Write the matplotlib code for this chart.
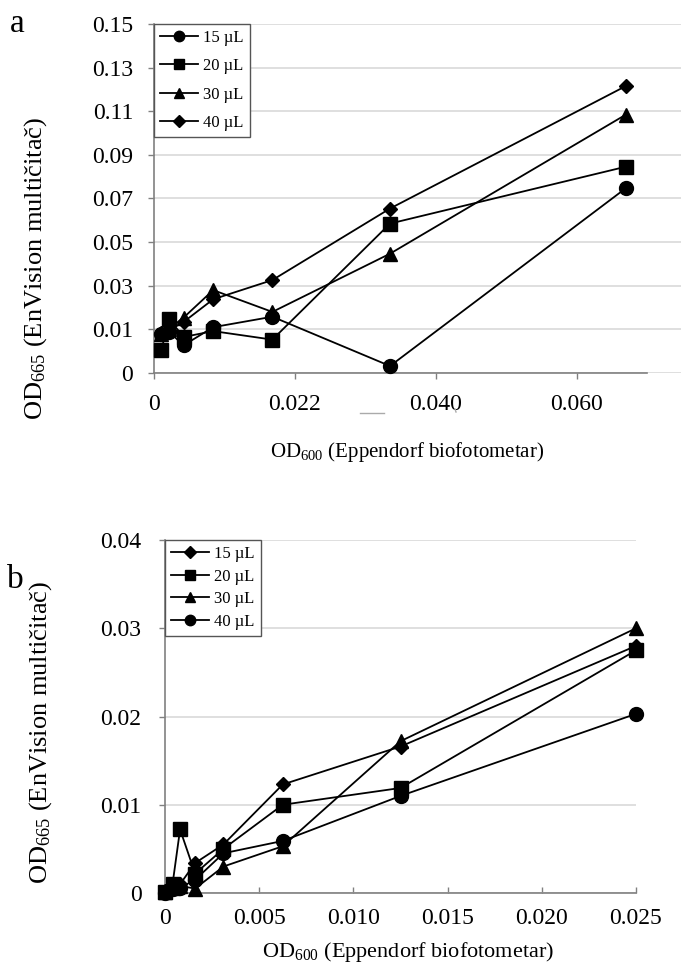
import matplotlib
matplotlib.use("Agg")
import matplotlib.pyplot as plt
from matplotlib.lines import Line2D

plt.rcParams["font.family"] = ["Liberation Serif", "DejaVu Serif"]
plt.rcParams["mathtext.default"] = "regular"

# panel a: x values as positioned on the (relabelled) axis
a_x = [0.00105, 0.0021, 0.0042, 0.0084, 0.0168, 0.0335, 0.067]
a_15 = [0.008, 0.009, 0.0027, 0.011, 0.0158, -0.0068, 0.0748]
a_20 = [0.0004, 0.0149, 0.0065, 0.0092, 0.0053, 0.0585, 0.0846]
a_30 = [0.008, 0.010, 0.0154, 0.028, 0.018, 0.0447, 0.1085]
a_40 = [0.0085, 0.0095, 0.0134, 0.0238, 0.0326, 0.0654, 0.1216]
a_xticks = [0, 0.02, 0.04, 0.06]
a_xlabels = ["0", "0.022", "0.040", "0.060"]
a_yticks = [-0.01, 0.01, 0.03, 0.05, 0.07, 0.09, 0.11, 0.13, 0.15]
a_ylabels = ["0", "0.01", "0.03", "0.05", "0.07", "0.09", "0.11", "0.13", "0.15"]

# panel b
b_x = [0, 0.0004, 0.0008, 0.0016, 0.0031, 0.00625, 0.0125, 0.025]
b_15 = [0.0002, 0.0008, 0.0010, 0.0034, 0.0055, 0.0123, 0.0166, 0.0280]
b_20 = [0.0001, 0.0010, 0.0072, 0.0022, 0.0050, 0.0100, 0.0119, 0.0275]
b_30 = [0.0001, 0.0006, 0.0008, 0.0005, 0.0030, 0.0053, 0.0172, 0.0300]
b_40 = [0.0000, 0.0004, 0.0006, 0.0015, 0.0045, 0.0059, 0.0110, 0.0203]
b_xticks = [0, 0.005, 0.010, 0.015, 0.020, 0.025]
b_xlabels = ["0", "0.005", "0.010", "0.015", "0.020", "0.025"]
b_yticks = [0, 0.01, 0.02, 0.03, 0.04]
b_ylabels = ["0", "0.01", "0.02", "0.03", "0.04"]

labels = ["15 µL", "20 µL", "30 µL", "40 µL"]

ylab = "OD$_{665}$ (EnVision multičitač)"
xlab = "OD$_{600}$ (Eppendorf biofotometar)"

sizes = {"o": 10, "s": 10, "^": 10, "D": 7.5}


def style(ax, xt, xl, yt, yl):
    for s in ["top", "right"]:
        ax.spines[s].set_visible(False)
    for s in ["left", "bottom"]:
        ax.spines[s].set_color("#808080")
        ax.spines[s].set_linewidth(1.2)
    ax.set_xticks(xt)
    ax.set_xticklabels(xl)
    ax.set_yticks(yt)
    ax.set_yticklabels(yl)
    ax.tick_params(labelsize=17, color="#808080", length=4, width=1)
    ax.yaxis.grid(True, color="#d9d9d9", linewidth=1.2)
    ax.set_axisbelow(True)


def draw(ax, x, series, markers, leg_spacing):
    handles = []
    for ys, m, lab in zip(series, markers, labels):
        ax.plot(x, ys, color="black", lw=1.3, marker=m, ms=sizes[m],
                mfc="black", mec="black", clip_on=False, zorder=3)
        handles.append(Line2D([], [], color="black", lw=1.3, marker=m,
                              ms=sizes[m] * 0.75, mfc="black", label=lab))
    leg = ax.legend(handles=handles, loc="upper left", bbox_to_anchor=(0.0, 1.0),
                    borderaxespad=0, fontsize=12, fancybox=False, framealpha=1,
                    edgecolor="#555555", handlelength=2.3, handletextpad=0.3,
                    labelspacing=leg_spacing, borderpad=0.35)
    leg.get_frame().set_linewidth(1.0)


fig = plt.figure(figsize=(6.96, 9.63), dpi=100)

ax1 = fig.add_axes([154 / 696, 1 - 373 / 963, 527 / 696, 349 / 963])
draw(ax1, a_x, [a_15, a_20, a_30, a_40], ["o", "s", "^", "D"], 0.75)
style(ax1, a_xticks, a_xlabels, a_yticks, a_ylabels)
ax1.set_xlim(0, 0.0748)
ax1.set_ylim(-0.01, 0.15)
ax1.spines["bottom"].set_bounds(0, 0.07)
ax1.tick_params(axis="x", pad=11)
ax1.tick_params(axis="y", pad=11)
ax1.set_xlabel(xlab, fontsize=15)
ax1.xaxis.set_label_coords((407 - 154) / 527, -(440 - 373) / 349)
ax1.set_ylabel(ylab, fontsize=19)
ax1.yaxis.set_label_coords((49 - 154) / 527, (373 - 268) / 349)

ax2 = fig.add_axes([165 / 696, 1 - 893 / 963, 471 / 696, 353 / 963])
draw(ax2, b_x, [b_15, b_20, b_30, b_40], ["D", "s", "^", "o"], 0.4)
style(ax2, b_xticks, b_xlabels, b_yticks, b_ylabels)
ax2.set_xlim(0, 0.025)
ax2.set_ylim(0, 0.04)
ax2.tick_params(axis="x", direction="in", pad=11)
ax2.tick_params(axis="y", pad=13)
ax2.set_xlabel(xlab, fontsize=16)
ax2.xaxis.set_label_coords((408 - 165) / 471, -(940 - 893) / 353)
ax2.set_ylabel(ylab, fontsize=19)
ax2.yaxis.set_label_coords((54 - 165) / 471, (893 - 732) / 353)

fig.text(10 / 696, 1 - 32 / 963, "a", fontsize=24)
fig.text(7 / 696, 1 - 588 / 963, "b", fontsize=24)

# small scan marks under the x axis of panel a
fig.add_artist(Line2D([360 / 696, 384 / 696], [1 - 413 / 963] * 2,
                      color="#aaaaaa", lw=1.0))
fig.add_artist(Line2D([455 / 696, 456 / 696], [1 - 409 / 963, 1 - 412 / 963],
                      color="#aaaaaa", lw=1.0))

fig.savefig("out.png", dpi=100)
